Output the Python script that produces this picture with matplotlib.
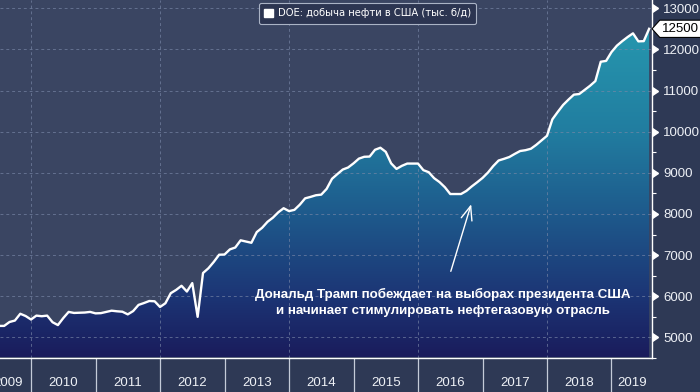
import numpy as np
import matplotlib
matplotlib.use("Agg")
import matplotlib.pyplot as plt
from matplotlib.colors import LinearSegmentedColormap
from matplotlib.patches import Patch
from matplotlib.path import Path

# ---------------- data ----------------
start_year, start_month = 2009, 7   # first monthly point: Jul 2009
production = [
    5280, 5280, 5375, 5410, 5575, 5520,                       # 2009 H2
    5435, 5530, 5515, 5530, 5370, 5300, 5470, 5620, 5595, 5600, 5605, 5620,   # 2010
    5585, 5590, 5620, 5650, 5635, 5625, 5560, 5640, 5790, 5835, 5885, 5878,   # 2011
    5740, 5830, 6075, 6155, 6255, 6115, 6320, 5500, 6565, 6680, 6835, 7010,   # 2012
    7015, 7140, 7185, 7360, 7330, 7300, 7560, 7665, 7810, 7910, 8040, 8140,   # 2013
    8070, 8100, 8225, 8380, 8415, 8455, 8470, 8610, 8855, 8970, 9080, 9130,   # 2014
    9230, 9345, 9390, 9395, 9560, 9610, 9510, 9230, 9095, 9170, 9225, 9225,   # 2015
    9225, 9065, 9015, 8870, 8775, 8650, 8485, 8485, 8485, 8560, 8670, 8770,   # 2016
    8875, 9005, 9165, 9300, 9340, 9385, 9460, 9530, 9550, 9585, 9680, 9790,   # 2017
    9900, 10300, 10480, 10650, 10780, 10900, 10915, 11015, 11115, 11230, 11700, 11720,  # 2018
    11935, 12090, 12200, 12300, 12390, 12195, 12200, 12500,                   # 2019
]
year_labels = ["2009", "2010", "2011", "2012", "2013", "2014", "2015",
               "2016", "2017", "2018", "2019"]
y_major = [5000, 6000, 7000, 8000, 9000, 10000, 11000, 12000, 13000]
legend_label = "DOE: добыча нефти в США (тыс. б/д)"
note_text = ("Дональд Трамп побеждает на выборах президента США\n"
             "и начинает стимулировать нефтегазовую отрасль")

# ---------------- layout ----------------
x_time = np.array([start_year + (start_month - 1 + i) / 12.0
                   for i in range(len(production))])
xmin, xmax = 2009.519, 2019.628
ymin, ymax = 4518, 13200

BG_FIG = "#2e3955"
BG_AX = "#3a4562"

fig = plt.figure(figsize=(7.0, 3.92), dpi=100)
fig.patch.set_facecolor(BG_FIG)
ax = fig.add_axes([0.0, 34 / 392, 652 / 700, 358 / 392])
ax.set_facecolor(BG_AX)
ax.set_xlim(xmin, xmax)
ax.set_ylim(ymin, ymax)

# gradient area fill
cmap = LinearSegmentedColormap.from_list(
    "area", [(0.0, "#1a1c5c"), (0.17, "#1c3575"), (0.40, "#1e5a8c"),
             (0.63, "#217da0"), (0.91, "#2696ae"), (1.0, "#289cb2")])
grad = np.linspace(0, 1, 256).reshape(-1, 1)
im = ax.imshow(grad, extent=[xmin, xmax, ymin, ymax], origin="lower",
               aspect="auto", cmap=cmap, zorder=0.2, interpolation="bicubic")
poly = ax.fill_between(x_time, production, ymin, facecolor="none",
                       edgecolor="none", zorder=0.2)
im.set_clip_path(poly.get_paths()[0], transform=ax.transData)

ax.plot(x_time, production, color="white", lw=1.7, zorder=3,
        solid_joinstyle="round")

# grid
ax.set_axisbelow(True)
for yv in y_major:
    ax.axhline(yv, color="#7a88a8", lw=0.7, ls=(0, (3, 3)), alpha=0.65, zorder=0.5)
for yr in range(2010, 2020, 2):
    ax.axvline(yr, color="#7a88a8", lw=0.7, ls=(0, (3, 3)), alpha=0.65, zorder=0.5)

# spines
for s in ["top", "left"]:
    ax.spines[s].set_visible(False)
for s in ["right", "bottom"]:
    ax.spines[s].set_color("white")
    ax.spines[s].set_linewidth(1.0)

# y axis (right)
ax.yaxis.tick_right()
ax.set_yticks(y_major)
ax.set_yticklabels([str(v) for v in y_major])
ax.set_yticks([v + 500 for v in y_major[:-1]] + [4500 + 0], minor=True)
ax.tick_params(axis="y", which="major", length=0, pad=8, labelcolor="#eef1f6",
               labelsize=9.5)
ax.tick_params(axis="y", which="minor", length=3, width=0.8, color="white",
               direction="out")
for lab in ax.get_yticklabels():
    lab.set_family("Liberation Sans")
ax.plot(np.ones(len(y_major)), y_major, marker=9, ms=5.5, color="white",
        ls="none", transform=ax.get_yaxis_transform(), clip_on=False, zorder=5)

# x axis: year separators + centred labels
major_x = list(range(2010, 2020))
ax.set_xticks(major_x)
ax.set_xticklabels([""] * len(major_x))
label_pos = [(2009.28 + 2010) / 2] + [y + 0.5 for y in range(2010, 2019)] + [(2019 + xmax) / 2]
ax.set_xticks(label_pos, minor=True)
ax.set_xticklabels(year_labels, minor=True)
ax.tick_params(axis="x", which="major", length=25, width=0.9, color="#c4cbd8",
               direction="out")
ax.tick_params(axis="x", which="minor", length=0, pad=14, labelcolor="#eef1f6",
               labelsize=9.5)
for lab in ax.get_xticklabels(minor=True):
    lab.set_family("Liberation Sans")

# legend
leg = ax.legend(handles=[Patch(facecolor="white", edgecolor="white",
                               label=legend_label)],
                loc="upper center", bbox_to_anchor=(0.5637, 0.992),
                frameon=True, fancybox=True, facecolor="#2c3551",
                edgecolor="#aab3c5", framealpha=1.0, labelcolor="white",
                prop={"family": "DejaVu Sans", "size": 7.2},
                handlelength=0.85, handleheight=0.85, borderpad=0.55,
                handletextpad=0.5, borderaxespad=0)
leg.get_frame().set_linewidth(0.8)

# annotation
ax.annotate("", xy=(2016.837, 8301), xytext=(2016.496, 6542),
            arrowprops=dict(arrowstyle="->,head_length=1.0,head_width=0.4",
                            color="white", lw=1.0))
ax.text(2016.39, 5855, note_text, ha="center", va="center", color="white",
        fontsize=9.6, fontweight="bold", linespacing=1.5,
        family="Liberation Sans", zorder=6)


# last value label with pointed left edge
def pointed_box(x0, y0, width, height, mutation_size):
    pad = 0.2 * mutation_size
    x0 -= pad
    y0 -= pad
    x1 = x0 + width + 2 * pad
    y1 = y0 + height + 2 * pad
    h = (y1 - y0) / 2
    verts = [(x0 - 0.9 * h, y0 + h), (x0, y0), (x1, y0), (x1, y1), (x0, y1),
             (x0 - 0.9 * h, y0 + h)]
    codes = [Path.MOVETO] + [Path.LINETO] * 4 + [Path.CLOSEPOLY]
    return Path(verts, codes)


last = production[-1]
ax.annotate(f"{last:.0f}", xy=(1, last), xycoords=ax.get_yaxis_transform(),
            xytext=(7.5, 0), textcoords="offset points", ha="left", va="center",
            fontsize=9.5, family="Liberation Sans", color="black",
            bbox=dict(boxstyle=pointed_box, fc="white", ec="black", lw=0.8),
            annotation_clip=False, zorder=7)

fig.savefig("out.png", dpi=100, facecolor=fig.get_facecolor())
